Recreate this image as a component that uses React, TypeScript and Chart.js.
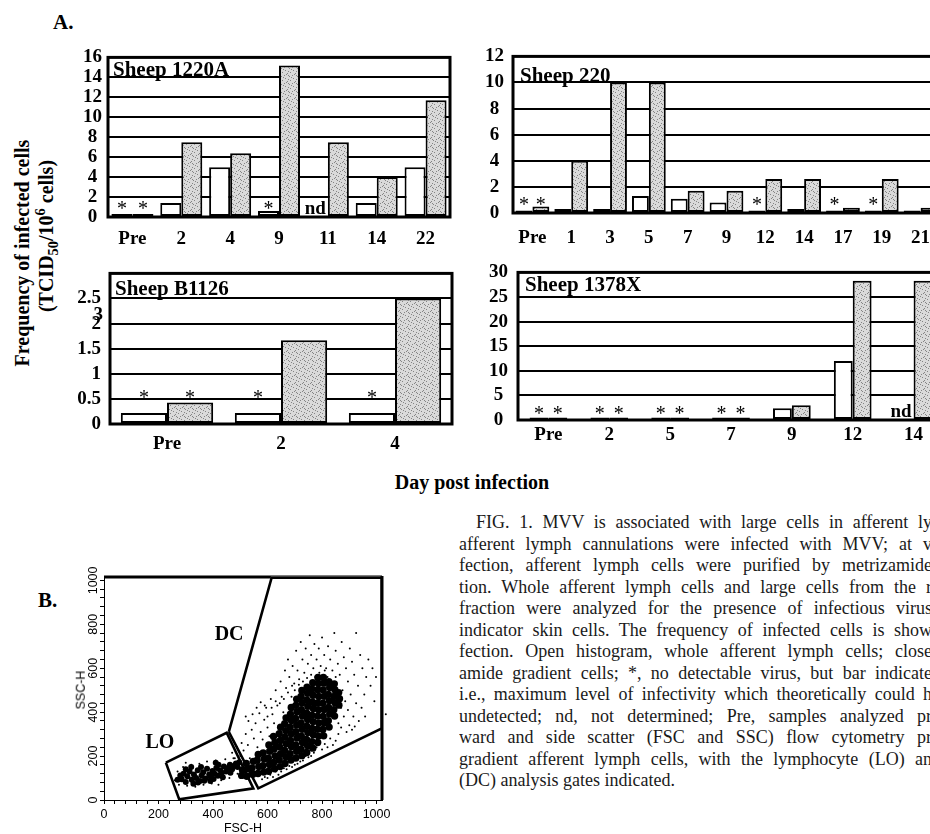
import React, { useEffect, useRef } from 'react';
import { Chart, registerables } from 'chart.js';

Chart.register(...registerables);

type Pt = [number, number];

// ===== Panel A data (TCID50 / 10^6 cells) =====
const s1220Days = ['Pre', '2', '4', '9', '11', '14', '22'];
const s1220Whole = [0.3, 1.4, 5.0, 0.6, null, 1.4, 5.0];
const s1220Gradient = [0.3, 7.5, 6.4, 15.2, 7.5, 4.0, 11.7];
const s1220WholeStar = [1, 0, 0, 1, 0, 0, 0];
const s1220GradientStar = [1, 0, 0, 0, 0, 0, 0];
const s1220WholeNd = [0, 0, 0, 0, 1, 0, 0];
const s1220YTicks = [0, 2, 4, 6, 8, 10, 12, 14, 16];
const s1220YLabels = ['0', '2', '4', '6', '8', '10', '12', '14', '16'];

const s220Days = ['Pre', '1', '3', '5', '7', '9', '12', '14', '17', '19', '21'];
const s220Whole = [0.2, 0.3, 0.3, 1.3, 1.1, 0.8, 0.2, 0.3, 0.2, 0.2, 0.2];
const s220Gradient = [0.5, 4.0, 10.0, 10.0, 1.7, 1.7, 2.6, 2.6, 0.4, 2.6, 0.4];
const s220WholeStar = [1, 0, 0, 0, 0, 0, 1, 0, 1, 1, 0];
const s220GradientStar = [1, 0, 0, 0, 0, 0, 0, 0, 0, 0, 0];
const s220WholeNd = [0, 0, 0, 0, 0, 0, 0, 0, 0, 0, 0];
const s220YTicks = [0, 2, 4, 6, 8, 10, 12];
const s220YLabels = ['0', '2', '4', '6', '8', '10', '12'];

const b1126Days = ['Pre', '2', '4'];
const b1126Whole = [0.22, 0.22, 0.22];
const b1126Gradient = [0.43, 1.67, 2.5];
const b1126WholeStar = [1, 1, 1];
const b1126GradientStar = [1, 0, 0];
const b1126WholeNd = [0, 0, 0];
const b1126YTicks = [0, 0.5, 1, 1.5, 2, 2.5, 3];
const b1126YLabels = ['0', '0.5', '1', '1.5', '2', '2.5', ''];

const s1378Days = ['Pre', '2', '5', '7', '9', '12', '14'];
const s1378Whole = [0.5, 0.5, 0.5, 0.5, 2.4, 12.0, null];
const s1378Gradient = [0.5, 0.5, 0.5, 0.5, 3.0, 28.3, 28.3];
const s1378WholeStar = [1, 1, 1, 1, 0, 0, 0];
const s1378GradientStar = [1, 1, 1, 1, 0, 0, 0];
const s1378WholeNd = [0, 0, 0, 0, 0, 0, 1];
const s1378YTicks = [0, 5, 10, 15, 20, 25, 30];
const s1378YLabels = ['0', '5', '10', '15', '20', '25', '30'];

// ===== Panel B data (FSC-H / SSC-H) =====
const facsTickLabels = [0, 200, 400, 600, 800, 1000];
const facsLoGate: Pt[] = [[227, 170], [450, 306], [548, 53], [276, 3], [227, 170]];
const facsDcGate: Pt[] = [[458, 310], [615, 1012], [1019, 1012], [1019, 326], [566, 53], [458, 310]];
const facsTopEdge: Pt[] = [[0, 1016], [612, 1016]];
const facsLoCore: Pt[] = [
  [285, 95], [292, 120], [300, 82], [306, 108], [314, 130], [322, 92], [330, 116], [338, 100], [344, 136],
  [352, 86], [358, 112], [364, 126], [372, 98], [378, 142], [386, 116], [392, 104], [398, 132], [406, 120],
  [412, 146], [418, 110], [426, 136], [432, 124], [440, 152], [448, 130], [455, 146], [462, 160], [470, 140],
  [478, 156], [484, 166], [490, 150], [300, 140], [328, 74], [356, 150], [390, 86], [420, 160], [280, 112],
  [270, 92], [320, 150], [345, 80], [368, 88], [402, 96], [436, 104], [410, 170], [464, 124], [496, 172],
];
const facsDcCore: Pt[] = [
  [505, 112], [508, 137], [524, 108], [527, 142], [522, 166], [546, 117], [543, 146], [548, 176],
  [565, 121], [568, 152], [562, 181], [566, 207], [586, 127], [583, 156], [588, 187], [584, 214],
  [604, 131], [607, 162], [603, 190], [608, 222], [605, 251], [626, 142], [623, 171], [628, 201],
  [624, 232], [627, 262], [622, 289], [646, 152], [643, 182], [648, 211], [644, 242], [647, 271],
  [643, 302], [648, 331], [664, 166], [667, 197], [663, 226], [668, 256], [664, 287], [667, 316],
  [663, 347], [668, 374], [686, 182], [683, 211], [688, 242], [684, 271], [687, 302], [683, 331],
  [688, 362], [684, 391], [687, 421], [704, 191], [707, 222], [703, 251], [708, 282], [704, 311],
  [707, 342], [703, 371], [708, 402], [704, 431], [707, 459], [726, 202], [723, 231], [728, 262],
  [724, 291], [727, 322], [723, 351], [728, 382], [724, 411], [727, 442], [723, 471], [726, 499],
  [744, 216], [747, 247], [743, 276], [748, 307], [744, 336], [747, 367], [743, 396], [748, 427],
  [744, 456], [747, 486], [745, 514], [766, 236], [763, 266], [768, 297], [764, 326], [767, 357],
  [763, 386], [768, 417], [764, 446], [767, 477], [763, 506], [766, 534], [784, 262], [787, 291],
  [783, 322], [788, 351], [784, 382], [787, 411], [783, 442], [788, 471], [784, 502], [787, 531],
  [785, 558], [806, 292], [803, 321], [808, 352], [804, 381], [807, 412], [803, 441], [808, 472],
  [804, 501], [807, 532], [805, 558], [826, 332], [823, 361], [828, 392], [824, 421], [827, 452],
  [823, 481], [828, 512], [825, 539], [846, 382], [843, 411], [848, 442], [844, 471], [847, 502],
  [845, 529], [862, 432], [864, 461], [861, 489],
];
const facsSparse: Pt[] = [
  [470, 215], [480, 190], [488, 240], [495, 175], [505, 260], [512, 225], [520, 300], [528, 250],
  [535, 190], [542, 320], [550, 280], [556, 350], [563, 240], [570, 395], [575, 310], [582, 275],
  [588, 365], [595, 420], [600, 330], [607, 290], [612, 460], [618, 390], [624, 350], [630, 500],
  [636, 430], [640, 310], [648, 540], [652, 470], [658, 400], [664, 590], [668, 510], [675, 640],
  [680, 560], [688, 470], [692, 610], [698, 530], [705, 680], [710, 590], [716, 550], [722, 720],
  [728, 640], [735, 580], [740, 690], [748, 620], [755, 750], [760, 660], [768, 600], [772, 710],
  [780, 640], [788, 690], [795, 610], [800, 740], [808, 660], [815, 600], [822, 700], [830, 640],
  [838, 590], [845, 760], [850, 680], [858, 620], [865, 570], [872, 720], [880, 650], [888, 600],
  [895, 540], [902, 690], [910, 630], [918, 570], [925, 760], [932, 520], [940, 660], [948, 600],
  [955, 480], [962, 560], [970, 640], [978, 520], [985, 600], [992, 450], [998, 560], [875, 500],
  [885, 450], [895, 410], [905, 480], [915, 380], [925, 440], [935, 360], [945, 420], [958, 380],
  [880, 380], [870, 330], [860, 300], [850, 270], [840, 250], [830, 280], [820, 240], [810, 255],
  [800, 230], [780, 240], [770, 215], [760, 200], [750, 195], [740, 200], [730, 180], [720, 175],
  [710, 165], [700, 160], [690, 150], [680, 155], [670, 140], [660, 145], [650, 130], [640, 115],
  [630, 130], [620, 105], [610, 115], [600, 100], [590, 105], [580, 95], [890, 310], [900, 340],
  [910, 320], [920, 335], [870, 420], [860, 350], [850, 560], [835, 530], [820, 560], [810, 590],
  [790, 580], [775, 560], [760, 570], [745, 555], [730, 540], [715, 525], [700, 500], [690, 520],
  [675, 490], [660, 460], [645, 440], [630, 450], [615, 420], [600, 380], [590, 430], [575, 445],
  [560, 420], [545, 390], [530, 360], [520, 380], [260, 90], [270, 130], [275, 70], [290, 150],
  [305, 65], [320, 160], [335, 60], [350, 165], [365, 70], [378, 175], [395, 75], [410, 180],
  [430, 90], [445, 185], [460, 100], [475, 190], [490, 120], [300, 170], [420, 70], [500, 200],
];
const facsOffScale: Pt[] = [
  [1034, 390], [1040, 420], [1036, 450], [1042, 480], [1035, 505], [1041, 530], [1037, 560],
  [1043, 590], [1036, 615], [1040, 640], [1038, 470], [1044, 545], [1035, 600],
];
const facsGateLabels = [
  { text: 'DC', x: 459, y: 751 },
  { text: 'LO', x: 205, y: 260 },
];

const captionLines = [
  'FIG. 1.  MVV is associated with large cells in afferent ly',
  'afferent lymph cannulations were infected with MVV; at v',
  'fection, afferent lymph cells were purified by metrizamide',
  'tion. Whole afferent lymph cells and large cells from the r',
  'fraction were analyzed for the presence of infectious virus',
  'indicator skin cells. The frequency of infected cells is show',
  'fection. Open histogram, whole afferent lymph cells; close',
  'amide gradient cells; *, no detectable virus, but bar indicate',
  'i.e., maximum level of infectivity which theoretically could h',
  'undetected; nd, not determined; Pre, samples analyzed pr',
  'ward and side scatter (FSC and SSC) flow cytometry pr',
  'gradient afferent lymph cells, with the lymphocyte (LO) an',
  '(DC) analysis gates indicated.',
];

const SERIF = '"Liberation Serif", "Times New Roman", serif';
const SANS = '"Liberation Sans", Arial, sans-serif';

const stippleDots: Pt[] = [[0, 0], [5, 1], [2, 3], [7, 4], [3, 6], [6, 7], [1, 5], [4, 2], [6, 3]];

function makeStipple(): CanvasPattern | string {
  const c = document.createElement('canvas');
  c.width = 8;
  c.height = 8;
  const g = c.getContext('2d');
  if (!g) return '#c8c8c8';
  g.fillStyle = '#dadada';
  g.fillRect(0, 0, 8, 8);
  g.fillStyle = '#858585';
  stippleDots.forEach(([x, y]) => g.fillRect(x, y, 1, 1));
  return g.createPattern(c, 'repeat') || '#c8c8c8';
}

const panelDeco = {
  id: 'panelDeco',
  afterDatasetsDraw(chart: any, _args: any, o: any) {
    const { ctx, chartArea: a } = chart;
    const ys = chart.scales.y;
    ctx.save();
    ctx.fillStyle = '#000';
    ctx.font = `20px ${SERIF}`;
    ctx.textAlign = 'center';
    ctx.textBaseline = 'middle';
    (o.stars || []).forEach((flags: number[], di: number) => {
      const meta = chart.getDatasetMeta(di);
      flags.forEach((f, i) => {
        if (!f) return;
        const el = meta.data[i];
        ctx.fillText('*', el.x, ys.getPixelForValue(o.starLevel) + 4);
      });
    });
    ctx.font = `bold 19px ${SERIF}`;
    ctx.textAlign = 'right';
    ctx.textBaseline = 'alphabetic';
    (o.nd || []).forEach((f: number, i: number) => {
      if (!f) return;
      const el = chart.getDatasetMeta(1).data[i];
      ctx.fillText('nd', el.x - el.width / 2 - 2, ys.getPixelForValue(0) - 3);
    });
    ctx.strokeStyle = '#000';
    ctx.lineWidth = o.frameWidth;
    ctx.strokeRect(a.left, a.top, a.right - a.left, a.bottom - a.top);
    ctx.font = `bold 21px ${SERIF}`;
    ctx.textAlign = 'left';
    ctx.fillText(o.title, a.left + o.titleDx, a.top + o.titleDy);
    if (o.extraTick) {
      ctx.font = `bold 19px ${SERIF}`;
      ctx.textAlign = 'right';
      ctx.textBaseline = 'middle';
      ctx.fillText(o.extraTick.text, a.left - o.extraTick.dx, ys.getPixelForValue(o.extraTick.value));
    }
    ctx.restore();
  },
};

const facsDeco = {
  id: 'facsDeco',
  afterDatasetsDraw(chart: any, _args: any, o: any) {
    const { ctx, chartArea: a } = chart;
    const xs = chart.scales.x;
    const ys = chart.scales.y;
    ctx.save();
    ctx.strokeStyle = '#000';
    ctx.lineWidth = 1.2;
    ctx.beginPath();
    ctx.moveTo(a.left, a.top);
    ctx.lineTo(a.right, a.top);
    ctx.stroke();
    ctx.lineWidth = 3;
    ctx.beginPath();
    ctx.moveTo(a.right, a.top);
    ctx.lineTo(a.right, a.bottom);
    ctx.stroke();
    ctx.fillStyle = '#000';
    ctx.font = `bold 20px ${SERIF}`;
    ctx.textAlign = 'center';
    ctx.textBaseline = 'middle';
    o.gateLabels.forEach((g: any) => ctx.fillText(g.text, xs.getPixelForValue(g.x), ys.getPixelForValue(g.y)));
    ctx.font = `12.5px ${SANS}`;
    o.yTicks.forEach((v: number) => {
      const py = ys.getPixelForValue(v);
      ctx.save();
      ctx.translate(o.yLabelX, py);
      ctx.rotate(-Math.PI / 2);
      ctx.fillText(String(v), 0, 0);
      ctx.restore();
    });
    ctx.restore();
  },
};

interface PanelSpec {
  days: string[];
  whole: (number | null)[];
  gradient: number[];
  wholeStar: number[];
  gradientStar: number[];
  wholeNd: number[];
  yTicks: number[];
  yLabels: string[];
  title: string;
  layout: {
    yW: number; xH: number; padR: number; padT: number; catPct: number; tickPad: number;
    xPad: number; cross: string; titleDx: number; titleDy: number; starLevel: number;
  };
  extraTick?: { text: string; value: number; dx: number };
}

function barConfig(p: PanelSpec): any {
  const L = p.layout;
  const tickFont = { family: SERIF, size: 19, weight: 'bold' as const };
  return {
    type: 'bar',
    data: {
      labels: p.days,
      datasets: [
        {
          label: 'Whole afferent lymph cells',
          data: p.whole,
          backgroundColor: '#ffffff',
          borderColor: '#000000',
          borderWidth: 2,
          borderSkipped: false,
          categoryPercentage: L.catPct,
          barPercentage: 1,
        },
        {
          label: 'Metrizamide gradient cells',
          data: p.gradient,
          backgroundColor: makeStipple(),
          borderColor: '#000000',
          borderWidth: 2,
          borderSkipped: false,
          categoryPercentage: L.catPct,
          barPercentage: 1,
        },
      ],
    },
    options: {
      responsive: false,
      animation: false,
      events: [],
      layout: { padding: { left: 0, right: L.padR, top: L.padT, bottom: 0 } },
      plugins: {
        legend: { display: false },
        tooltip: { enabled: false },
        panelDeco: {
          stars: [p.wholeStar, p.gradientStar],
          nd: p.wholeNd,
          starLevel: L.starLevel,
          frameWidth: 3,
          title: p.title,
          titleDx: L.titleDx,
          titleDy: L.titleDy,
          extraTick: p.extraTick,
        },
      },
      scales: {
        x: {
          grid: { display: false },
          border: { display: false },
          ticks: { font: tickFont, color: '#000', padding: L.xPad, autoSkip: false, maxRotation: 0 },
          afterFit: (s: any) => { s.height = L.xH; },
        },
        y: {
          min: p.yTicks[0],
          max: p.yTicks[p.yTicks.length - 1],
          afterBuildTicks: (s: any) => { s.ticks = p.yTicks.map((v) => ({ value: v })); },
          grid: { color: '#000', lineWidth: 2, drawTicks: false },
          border: { display: false },
          ticks: {
            font: tickFont,
            color: '#000',
            padding: L.tickPad,
            crossAlign: L.cross,
            autoSkip: false,
            callback: (_v: any, i: number) => p.yLabels[i],
          },
          afterFit: (s: any) => { s.width = L.yW; },
        },
      },
    },
    plugins: [panelDeco],
  };
}

const pts = (a: Pt[]) => a.map(([x, y]) => ({ x, y }));

function facsConfig(): any {
  const axisFont = { family: SANS, size: 12.5 };
  const dot = (data: Pt[], r: number, extra: any = {}) => ({
    data: pts(data), pointRadius: r, pointBackgroundColor: '#000', pointBorderWidth: 0, showLine: false, ...extra,
  });
  const line = (data: Pt[], w: number) => ({
    data: pts(data), showLine: true, pointRadius: 0, borderColor: '#000', borderWidth: w, fill: false, tension: 0,
  });
  return {
    type: 'scatter',
    data: {
      datasets: [
        dot(facsSparse, 1),
        dot(facsLoCore, 3),
        dot(facsDcCore, 3.7),
        dot(facsOffScale, 1, { clip: false }),
        line(facsLoGate, 2.6),
        line(facsDcGate, 2.6),
        line(facsTopEdge, 3),
      ],
    },
    options: {
      responsive: false,
      animation: false,
      events: [],
      layout: { padding: { left: 0, right: 18, top: 16, bottom: 0 } },
      plugins: {
        legend: { display: false },
        tooltip: { enabled: false },
        facsDeco: { gateLabels: facsGateLabels, yTicks: facsTickLabels, yLabelX: 34 },
      },
      scales: {
        x: {
          type: 'linear', min: 0, max: 1020,
          grid: { drawOnChartArea: false, drawTicks: true, tickLength: 4, color: '#000' },
          border: { color: '#000', width: 1 },
          ticks: {
            stepSize: 40, includeBounds: false, autoSkip: false, maxRotation: 0, padding: 3,
            font: axisFont, color: '#000',
            callback: (v: number) => (facsTickLabels.includes(v) ? String(v) : ''),
          },
          afterFit: (s: any) => { s.height = 34; },
        },
        y: {
          type: 'linear', min: 0, max: 1020,
          grid: { drawOnChartArea: false, drawTicks: true, tickLength: 4, color: '#000' },
          border: { color: '#000', width: 1 },
          ticks: { stepSize: 40, includeBounds: false, autoSkip: false, callback: () => '' },
          afterFit: (s: any) => { s.width = 44; },
        },
      },
    },
    plugins: [facsDeco],
  };
}

function ChartCanvas({ left, top, width, height, make }: { left: number; top: number; width: number; height: number; make: () => any }) {
  const ref = useRef<HTMLCanvasElement>(null);
  useEffect(() => {
    if (!ref.current) return;
    const chart = new Chart(ref.current, make());
    return () => chart.destroy();
  }, []);
  return <canvas ref={ref} width={width} height={height} style={{ position: 'absolute', left, top, width, height }} />;
}

const panels: { spec: PanelSpec; box: [number, number, number, number] }[] = [
  {
    box: [50, 40, 410, 220],
    spec: {
      days: s1220Days, whole: s1220Whole, gradient: s1220Gradient, wholeStar: s1220WholeStar,
      gradientStar: s1220GradientStar, wholeNd: s1220WholeNd, yTicks: s1220YTicks, yLabels: s1220YLabels,
      title: 'Sheep 1220A',
      layout: { yW: 58, xH: 43, padR: 10, padT: 12, catPct: 0.86, tickPad: 6, xPad: 3, cross: 'center', titleDx: 5, titleDy: 19, starLevel: 1.16 },
    },
  },
  {
    box: [455, 36, 490, 220],
    spec: {
      days: s220Days, whole: s220Whole, gradient: s220Gradient, wholeStar: s220WholeStar,
      gradientStar: s220GradientStar, wholeNd: s220WholeNd, yTicks: s220YTicks, yLabels: s220YLabels,
      title: 'Sheep 220',
      layout: { yW: 58, xH: 43, padR: 5, padT: 12, catPct: 0.87, tickPad: 9, xPad: 6, cross: 'center', titleDx: 7, titleDy: 26, starLevel: 0.87 },
    },
  },
  {
    box: [50, 253, 410, 212],
    spec: {
      days: b1126Days, whole: b1126Whole, gradient: b1126Gradient, wholeStar: b1126WholeStar,
      gradientStar: b1126GradientStar, wholeNd: b1126WholeNd, yTicks: b1126YTicks, yLabels: b1126YLabels,
      title: 'Sheep B1126',
      layout: { yW: 60, xH: 41, padR: 8, padT: 12, catPct: 0.81, tickPad: 9, xPad: 1, cross: 'near', titleDx: 5, titleDy: 22, starLevel: 0.58 },
      extraTick: { text: '3', value: 2.17, dx: 7 },
    },
  },
  {
    box: [455, 251, 495, 212],
    spec: {
      days: s1378Days, whole: s1378Whole, gradient: s1378Gradient, wholeStar: s1378WholeStar,
      gradientStar: s1378GradientStar, wholeNd: s1378WholeNd, yTicks: s1378YTicks, yLabels: s1378YLabels,
      title: 'Sheep 1378X',
      layout: { yW: 63, xH: 43, padR: 6, padT: 12, catPct: 0.62, tickPad: 10, xPad: -4, cross: 'center', titleDx: 7, titleDy: 19, starLevel: 1.9 },
    },
  },
];

function Txt({ x, y, size, bold, children, rotate, align = 'left', family = SERIF }: any) {
  const tx = align === 'center' ? '-50%' : '0';
  return (
    <div
      style={{
        position: 'absolute', left: x, top: y, whiteSpace: 'nowrap', fontFamily: family, fontSize: size,
        fontWeight: bold ? 'bold' : 'normal', lineHeight: 1, color: '#000',
        transform: rotate ? `translate(-50%, -50%) rotate(-90deg)` : `translate(${tx}, -50%)`,
      }}
    >
      {children}
    </div>
  );
}

export default function App() {
  return (
    <div style={{ position: 'fixed', left: 0, top: 0, width: 930, height: 834, overflow: 'hidden', background: '#fff', fontFamily: SERIF }}>
      <Txt x={53} y={21.5} size={21} bold>A.</Txt>
      <Txt x={38} y={600} size={21} bold>B.</Txt>
      <Txt x={22} y={253} size={20} bold rotate>Frequency of infected cells</Txt>
      <Txt x={47} y={236} size={20} bold rotate>
        (TCID<sub style={{ fontSize: '0.72em' }}>50</sub>/10<sup style={{ fontSize: '0.72em' }}>6</sup> cells)
      </Txt>
      <Txt x={472} y={481.5} size={20} bold align="center">Day post infection</Txt>
      {panels.map((p, i) => (
        <ChartCanvas key={i} left={p.box[0]} top={p.box[1]} width={p.box[2]} height={p.box[3]} make={() => barConfig(p.spec)} />
      ))}
      <ChartCanvas left={60} top={560} width={340} height={274} make={facsConfig} />
      <Txt x={81} y={690} size={12.5} family={SANS} rotate>SSC-H</Txt>
      <Txt x={243} y={828} size={12.5} family={SANS} align="center">FSC-H</Txt>
      {captionLines.map((t, i) => {
        const last = i === captionLines.length - 1;
        return (
          <div
            key={i}
            style={{
              position: 'absolute', left: 459, top: 512 + 21.5 * i, width: 473, height: 21.5, overflow: 'hidden',
              fontFamily: SERIF, fontSize: 18, lineHeight: '21.5px', color: '#1a1a1a',
              textAlign: last ? 'left' : 'justify', textAlignLast: last ? 'left' : 'justify',
              textIndent: i === 0 ? 17 : 0,
            } as any}
          >
            {t}
          </div>
        );
      })}
    </div>
  );
}
